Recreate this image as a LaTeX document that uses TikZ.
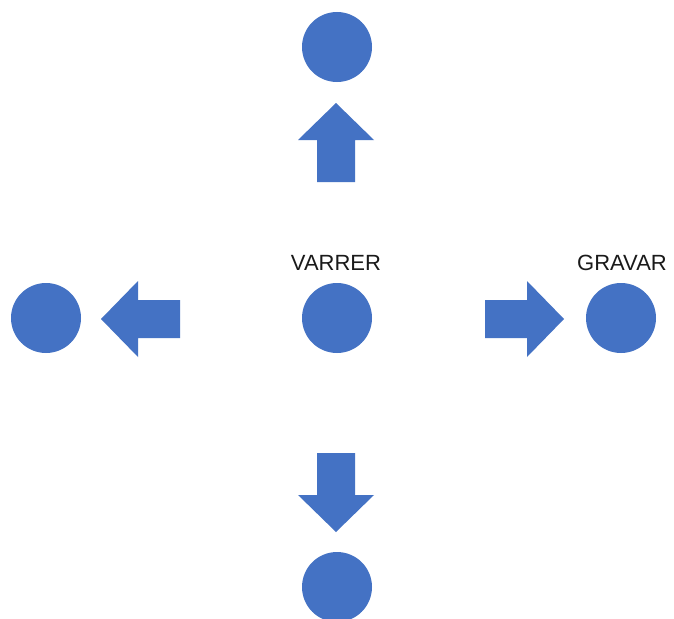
\documentclass[tikz,border=0pt]{standalone}
\usepackage{fontspec}
\setmainfont{Liberation Sans}
\definecolor{officeblue}{HTML}{4472C4}
\definecolor{labeltext}{HTML}{1A1A1A}
\tikzset{
  dot/.style={circle, fill=officeblue, minimum size=70pt, inner sep=0pt, outer sep=0pt},
  lbl/.style={anchor=base, inner sep=0pt, font=\fontsize{22}{25}\selectfont, text=labeltext},
  blockarrow/.pic={\fill[officeblue] (-42,-19) -- (0,-19) -- (0,-38) -- (37,0) -- (0,38) -- (0,19) -- (-42,19) -- cycle;}
}
\begin{document}
\begin{tikzpicture}[x=1pt,y=-1pt]
\useasboundingbox (0,0) rectangle (674,618);
\clip (0,0) rectangle (674,618);
\fill[white] (0,0) rectangle (674,618);
% circles
\node[dot] (center) at (337,318) {};
\node[dot] (top) at (337,47) {};
\node[dot] (bottom) at (337,587) {};
\node[dot] (left) at (46,318) {};
\node[dot] (right) at (621,318) {};
% labels
\node[lbl] (varrer) at (336,270) {VARRER};
\node[lbl] (gravar) at (622,270) {GRAVAR};
% block arrows
\coordinate (ar) at (527,319);
\coordinate (al) at (138,319);
\coordinate (au) at (336,140);
\coordinate (ad) at (336,495);
\pic at (ar) {blockarrow};
\pic[rotate=180] at (al) {blockarrow};
\pic[rotate=90] at (au) {blockarrow};
\pic[rotate=-90] at (ad) {blockarrow};
\end{tikzpicture}
\end{document}
